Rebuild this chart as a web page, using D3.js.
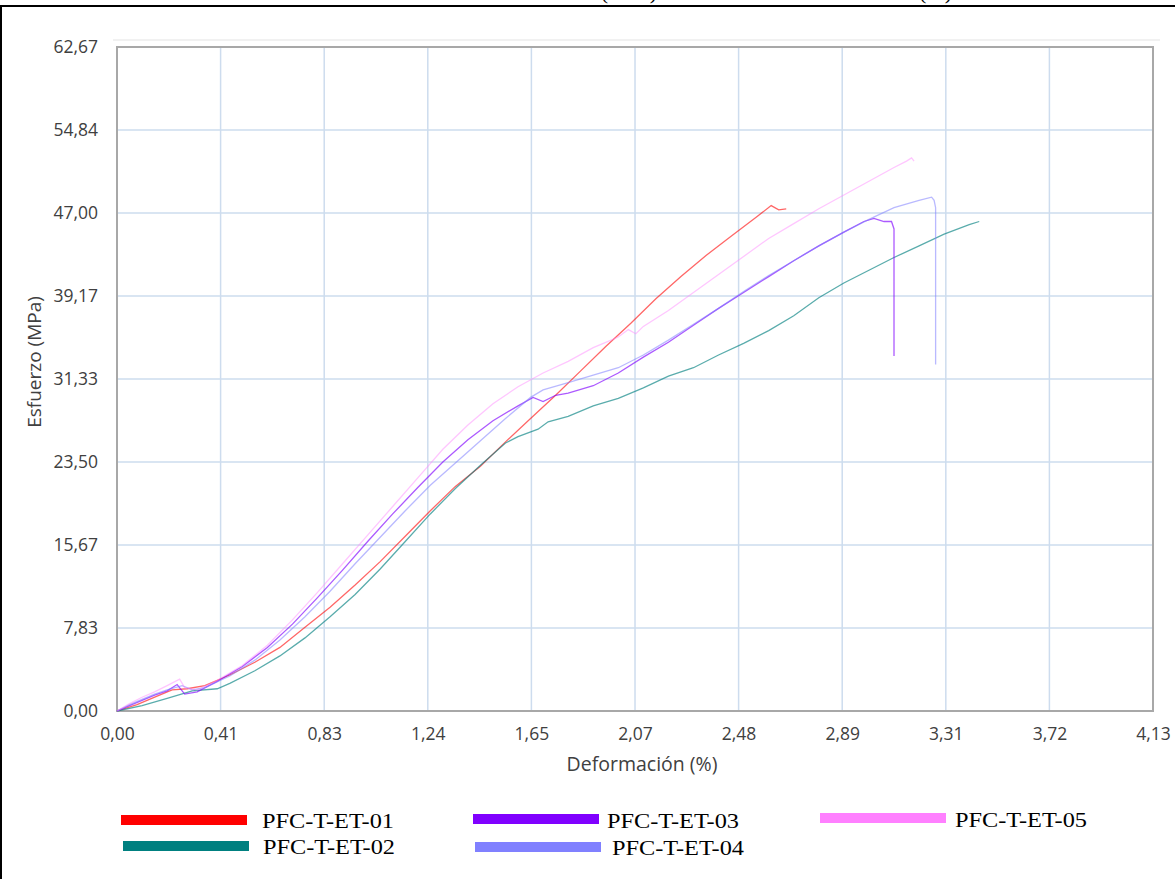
<!DOCTYPE html>
<html>
<head>
<meta charset="utf-8">
<script src="https://cdn.jsdelivr.net/npm/d3@7"></script>
<style>
  body { margin: 0; background: #fff; }
  svg { display: block; }
</style>
</head>
<body>
<div id="chart"></div>
<script>
// Series names and colours (legend order)
const seriesNames = ["PFC-T-ET-01", "PFC-T-ET-02", "PFC-T-ET-03", "PFC-T-ET-04", "PFC-T-ET-05"];
const seriesColors = ["#ff0000", "#008080", "#8000ff", "#8080ff", "#ff80ff"];

// Axis ticks and the labels printed on the chart
const xTicks = [0, 0.4133, 0.8267, 1.24, 1.6533, 2.0667, 2.48, 2.8933, 3.3067, 3.72, 4.1333];
const xTickLabels = ["0,00", "0,41", "0,83", "1,24", "1,65", "2,07", "2,48", "2,89", "3,31", "3,72", "4,13"];
const yTicks = [0, 7.8338, 15.6675, 23.5013, 31.335, 39.1688, 47.0025, 54.8363, 62.67];
const yTickLabels = ["0,00", "7,83", "15,67", "23,50", "31,33", "39,17", "47,00", "54,84", "62,67"];

// Curves: [deformación %, esfuerzo MPa]
const et01 = [[0,0],[0.08,0.6],[0.16,1.4],[0.22,2.0],[0.28,2.1],[0.35,2.4],[0.45,3.4],[0.55,4.6],[0.65,6.0],
  [0.75,7.9],[0.85,9.8],[0.95,11.9],[1.05,14.1],[1.15,16.5],[1.25,18.9],[1.35,21.2],[1.45,23.1],[1.55,25.4],
  [1.65,27.6],[1.75,29.8],[1.85,32.1],[1.95,34.4],[2.05,36.6],[2.15,38.9],[2.25,41.0],[2.35,43.0],[2.45,44.8],
  [2.55,46.6],[2.61,47.7],[2.64,47.3],[2.67,47.4]];
const et02 = [[0,0],[0.1,0.5],[0.2,1.2],[0.3,1.9],[0.4,2.1],[0.45,2.6],[0.55,3.8],[0.65,5.2],[0.75,6.9],
  [0.85,8.9],[0.95,11.0],[1.05,13.4],[1.15,16.0],[1.25,18.6],[1.35,21.0],[1.45,23.2],[1.55,25.3],[1.6,25.9],
  [1.68,26.6],[1.72,27.3],[1.8,27.8],[1.9,28.8],[2.0,29.5],[2.1,30.5],[2.2,31.6],[2.3,32.4],[2.4,33.6],
  [2.5,34.7],[2.6,35.9],[2.7,37.3],[2.8,39.0],[2.9,40.4],[3.0,41.6],[3.1,42.8],[3.2,43.9],[3.3,45.0],
  [3.4,45.9],[3.44,46.2]];
const et03 = [[0,0],[0.05,0.5],[0.1,1.0],[0.15,1.5],[0.2,1.9],[0.24,2.5],[0.27,1.6],[0.32,1.8],[0.4,2.8],
  [0.5,4.2],[0.6,6.0],[0.7,8.2],[0.8,10.7],[0.9,13.3],[1.0,16.0],[1.1,18.6],[1.2,21.1],[1.3,23.5],[1.4,25.6],
  [1.5,27.4],[1.6,28.8],[1.66,29.6],[1.7,29.2],[1.75,29.8],[1.8,30.0],[1.9,30.7],[2.0,31.9],[2.1,33.4],
  [2.2,34.8],[2.3,36.4],[2.4,38.0],[2.5,39.5],[2.6,41.0],[2.7,42.5],[2.8,43.9],[2.9,45.2],[2.98,46.2],
  [3.02,46.5],[3.06,46.2],[3.09,46.2],[3.1,45.5],[3.1,33.5]];
const et04 = [[0,0],[0.05,0.6],[0.1,1.1],[0.15,1.6],[0.2,2.0],[0.26,2.4],[0.3,2.0],[0.35,2.2],[0.45,3.3],
  [0.55,4.8],[0.65,6.7],[0.75,8.9],[0.85,11.3],[0.95,13.9],[1.05,16.4],[1.15,18.9],[1.25,21.3],[1.35,23.4],
  [1.45,25.5],[1.55,27.6],[1.65,29.6],[1.7,30.3],[1.8,31.0],[1.9,31.7],[2.0,32.4],[2.1,33.6],[2.2,35.0],
  [2.3,36.5],[2.4,38.0],[2.5,39.6],[2.6,41.1],[2.7,42.5],[2.8,43.9],[2.9,45.2],[3.0,46.4],[3.1,47.5],
  [3.2,48.2],[3.25,48.5],[3.26,48.2],[3.266,47.5],[3.266,32.7]];
const et05 = [[0,0],[0.05,0.7],[0.1,1.3],[0.15,1.8],[0.2,2.4],[0.25,3.0],[0.27,2.2],[0.32,2.0],[0.4,2.9],
  [0.5,4.3],[0.6,6.2],[0.7,8.6],[0.8,11.2],[0.9,13.9],[1.0,16.6],[1.1,19.3],[1.2,22.0],[1.3,24.7],[1.4,27.0],
  [1.5,29.0],[1.6,30.6],[1.7,31.9],[1.8,33.0],[1.9,34.3],[1.95,34.8],[2.0,35.3],[2.04,36.0],[2.07,35.6],
  [2.1,36.3],[2.2,37.8],[2.3,39.5],[2.4,41.2],[2.5,42.9],[2.6,44.6],[2.7,46.0],[2.8,47.4],[2.9,48.7],
  [3.0,50.0],[3.1,51.3],[3.15,51.9],[3.17,52.2],[3.18,51.9]];
const seriesData = [et01, et02, et03, et04, et05];

const W = 1175, H = 879;
const margin = { top: 47, right: 22, bottom: 168, left: 117 };
const width = W - margin.left - margin.right;
const height = H - margin.top - margin.bottom;

const svg = d3.select("#chart").append("svg")
    .attr("width", W)
    .attr("height", H);

// Black frame edges (top and left) of the cropped figure
svg.append("line").attr("x1", 0).attr("x2", W).attr("y1", 6).attr("y2", 6)
    .attr("stroke", "#000").attr("stroke-width", 2);
svg.append("line").attr("x1", 1).attr("x2", 1).attr("y1", 6).attr("y2", H)
    .attr("stroke", "#000").attr("stroke-width", 2);

// Title remains, mostly cut off by the crop
svg.append("text").attr("x", 657).attr("y", -1)
    .attr("text-anchor", "end")
    .style("font-family", "Liberation Serif").style("font-size", "22px")
    .text("Esfuerzo (MPa)");
svg.append("text").attr("x", 952).attr("y", -1)
    .attr("text-anchor", "end")
    .style("font-family", "Liberation Serif").style("font-size", "22px")
    .text("Deformación (%)");

// faint chart-area shadow line above the plot
svg.append("line").attr("x1", 113).attr("x2", 1160).attr("y1", 40).attr("y2", 40)
    .attr("stroke", "#ececec").attr("stroke-width", 1.5);

const g = svg.append("g")
    .attr("transform", `translate(${margin.left},${margin.top})`);

const x = d3.scaleLinear().domain([0, xTicks[xTicks.length - 1]]).range([0, width]);
const y = d3.scaleLinear().domain([0, yTicks[yTicks.length - 1]]).range([height, 0]);

// Grid lines
g.append("g").selectAll("line").data(xTicks.slice(1, -1)).join("line")
    .attr("x1", d => x(d)).attr("x2", d => x(d))
    .attr("y1", 0).attr("y2", height)
    .attr("stroke", "#cddcee").attr("stroke-width", 1.5);
g.append("g").selectAll("line").data(yTicks.slice(1, -1)).join("line")
    .attr("x1", 0).attr("x2", width)
    .attr("y1", d => y(d)).attr("y2", d => y(d))
    .attr("stroke", "#cddcee").attr("stroke-width", 1.5);

// Plot area border
g.append("rect")
    .attr("x", 0).attr("y", 0)
    .attr("width", width).attr("height", height)
    .attr("fill", "none")
    .attr("stroke", "#a8a8a8").attr("stroke-width", 2);

// Axes (labels only, no tick marks)
const xAxis = g.append("g")
    .attr("transform", `translate(0,${height})`)
    .call(d3.axisBottom(x).tickValues(xTicks)
        .tickFormat((d, i) => xTickLabels[i]).tickSize(0).tickPadding(17));
const yAxis = g.append("g")
    .call(d3.axisLeft(y).tickValues(yTicks)
        .tickFormat((d, i) => yTickLabels[i]).tickSize(0).tickPadding(19));
[xAxis, yAxis].forEach(a => {
    a.select(".domain").remove();
    a.selectAll("text")
        .style("font-family", "Open Sans")
        .style("font-size", "17.5px")
        .attr("fill", "#404040");
});

// Axis titles
g.append("text")
    .attr("x", width / 2 + 7)
    .attr("y", height + 60)
    .attr("text-anchor", "middle")
    .style("font-family", "Open Sans").style("font-size", "19.5px")
    .attr("fill", "#404040")
    .text("Deformación (%)");
g.append("text")
    .attr("transform", "rotate(-90)")
    .attr("x", -(height / 2) + 17)
    .attr("y", -76)
    .attr("text-anchor", "middle")
    .style("font-family", "Open Sans").style("font-size", "19px")
    .attr("fill", "#404040")
    .text("Esfuerzo (MPa)");

// Curves
const line = d3.line().x(d => x(d[0])).y(d => y(d[1]));
g.append("g").selectAll("path").data(seriesData).join("path")
    .attr("d", line)
    .attr("fill", "none")
    .attr("stroke", (d, i) => seriesColors[i])
    .attr("stroke-opacity", (d, i) => [0.6, 0.65, 0.65, 0.55, 0.45][i])
    .attr("stroke-width", 1.3);

// Legend below the chart (two rows, three columns)
const legendPos = [
    { x: 121, y: 815, tx: 262, ty: 828 },
    { x: 123, y: 841, tx: 263, ty: 854 },
    { x: 473, y: 814, tx: 607, ty: 828 },
    { x: 475, y: 842, tx: 612, ty: 855 },
    { x: 820, y: 813, tx: 955, ty: 827 }
];
const legend = svg.append("g").selectAll("g").data(seriesNames).join("g");
legend.append("rect")
    .attr("x", (d, i) => legendPos[i].x)
    .attr("y", (d, i) => legendPos[i].y)
    .attr("width", 126).attr("height", 10)
    .attr("fill", (d, i) => seriesColors[i]);
legend.append("text")
    .attr("x", (d, i) => legendPos[i].tx)
    .attr("y", (d, i) => legendPos[i].ty)
    .attr("textLength", 132)
    .attr("lengthAdjust", "spacingAndGlyphs")
    .style("font-family", "Liberation Serif")
    .style("font-size", "22px")
    .attr("fill", "#000")
    .text(d => d);
</script>
</body>
</html>
